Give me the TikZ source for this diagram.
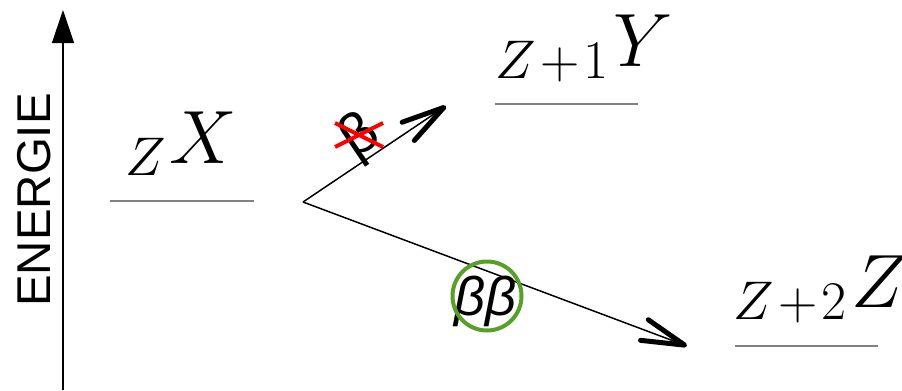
\RequirePackage{fix-cm}
\documentclass[tikz,border=0pt]{standalone}
\usepackage{fontspec}
\newfontfamily\sansfont{Liberation Sans}
\usetikzlibrary{arrows.meta}
\definecolor{vertbeta}{RGB}{88,160,38}
\newcommand\sousind[1]{\raisebox{-0.24cm}{\fontsize{31}{36}\selectfont$#1$}\hspace{0.08cm}}
\newcommand\plusfin{\mathord{\mkern1.5mu+\mkern1.5mu}}
\tikzset{
  niveau/.style={draw=black!50, line width=0.75pt},
  noyau/.style={inner sep=0pt, anchor=base west, font=\fontsize{43}{50}\selectfont},
  desint/.style={line width=0.85pt, -{Straight Barb[length=0.86cm, width=0.44cm, line width=0.1cm, round]}}
}
\begin{document}
\begin{tikzpicture}[x=0.02cm, y=-0.02cm]
  \useasboundingbox (0,0) rectangle (902,390);
  % axe des energies
  \draw[line width=0.75pt, -{Triangle[length=0.66cm, width=0.44cm]}] (63,390) -- (63,10);
  \node[rotate=90, font=\sansfont\fontsize{27}{30}\selectfont] (energie) at (34,200) {ENERGIE};
  % les trois niveaux
  \draw[niveau] (110,201) -- (254,201);
  \draw[niveau] (495,104) -- (638,104);
  \draw[niveau] (735,346) -- (878,346);
  \node[noyau] (noyX) at (125,163) {\sousind{Z}$X$};
  \node[noyau] (noyY) at (495,66) {\sousind{Z\plusfin1}$Y$};
  \node[noyau] (noyZ) at (733,307) {\sousind{Z\plusfin2}$Z$};
  % les deux desintegrations
  \coordinate (depart) at (303,202);
  \coordinate (versY) at (446,106);
  \coordinate (versZ) at (687,346);
  \draw[desint] (depart) -- (versY);
  \draw[desint] (depart) -- (versZ);
  % beta simple, interdit
  \node[rotate=34, font=\sansfont\fontsize{33}{36}\selectfont] (beta) at (361,138) {β};
  \draw[red, line width=0.08cm] (335,123) -- (383,147);
  \draw[red, line width=0.08cm] (335,147) -- (383,123);
  % double beta, permis
  \node[font=\sansfont\itshape\fontsize{31}{36}\selectfont] (bb) at (486,301) {ββ};
  \draw[vertbeta, line width=0.08cm] (487,296) circle[radius=0.69cm];
\end{tikzpicture}
\end{document}
